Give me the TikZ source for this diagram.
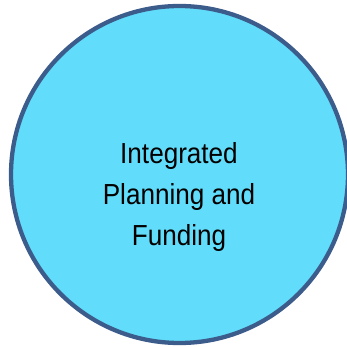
\documentclass[tikz,border=0pt]{standalone}
\usepackage{fontspec}
\newfontfamily\narrowfont{Liberation Sans}[FakeStretch=0.9]
\definecolor{circfill}{RGB}{97,221,251}
\definecolor{circline}{RGB}{60,92,140}
\tikzset{bigcircle/.style={circle, draw=circline, fill=circfill, line width=4.3pt, minimum size=337pt, inner sep=0pt},
labeltext/.style={font=\narrowfont\fontsize{29}{41}\selectfont, align=center, text=black}}
\begin{document}
\begin{tikzpicture}[x=1pt,y=-1pt]
\useasboundingbox (0,0) rectangle (346,347);
\node[bigcircle] (c) at (179.5,174.5) {};
\node[labeltext] (t) at (179,197.5) {Integrated\\Planning and\\Funding};
\end{tikzpicture}
\end{document}
